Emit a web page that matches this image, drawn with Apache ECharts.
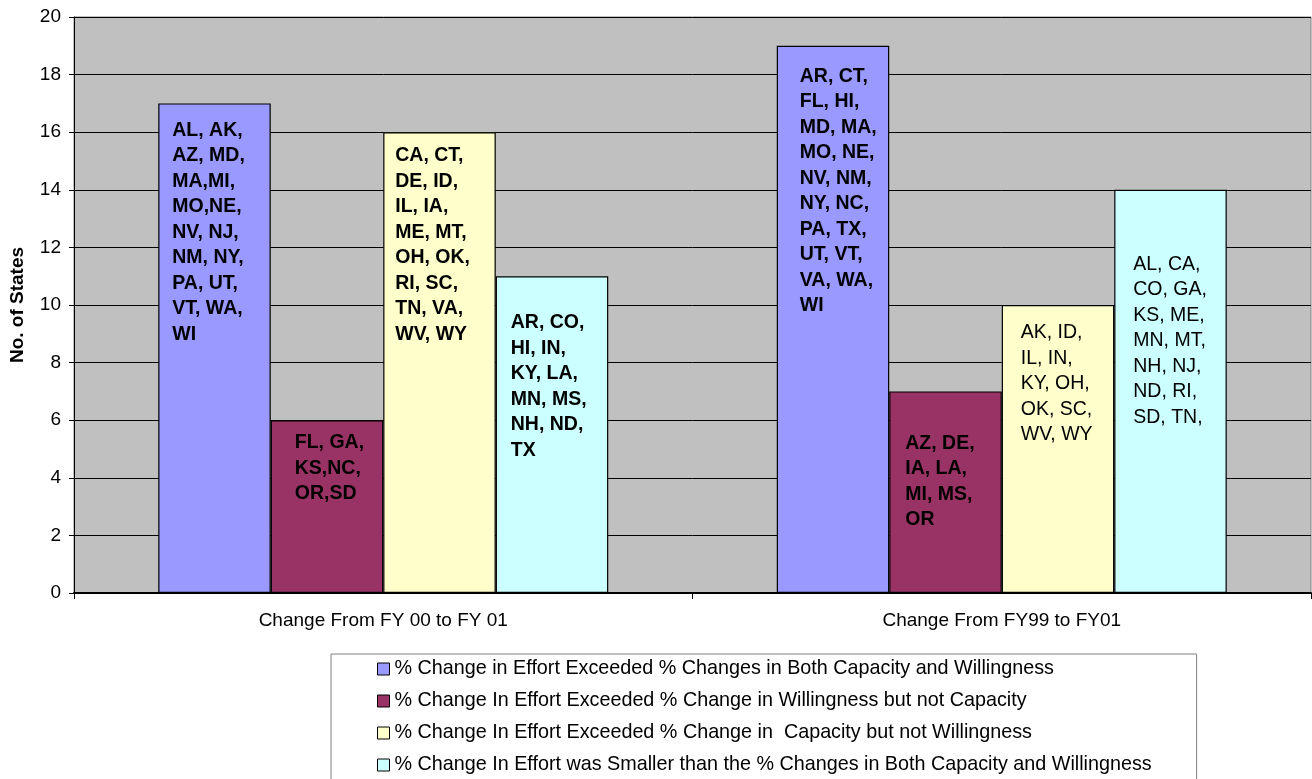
<!DOCTYPE html>
<html>
<head>
<meta charset="utf-8">
<script src="https://cdn.jsdelivr.net/npm/echarts@6/dist/echarts.min.js"></script>
<style>
  html, body { margin: 0; padding: 0; background: #fff; }
  #chart { width: 1312px; height: 779px; }
</style>
</head>
<body>
<div id="chart"></div>
<script>
const categories = ['Change From FY 00 to FY 01', 'Change From FY99 to FY01'];

const seriesNames = [
  '% Change in Effort Exceeded % Changes in Both Capacity and Willingness',
  '% Change In Effort Exceeded % Change in Willingness but not Capacity',
  '% Change In Effort Exceeded % Change in  Capacity but not Willingness',
  '% Change In Effort was Smaller than the % Changes in Both Capacity and Willingness'
];

const bothExceeded = [17, 19];
const willingnessOnly = [6, 7];
const capacityOnly = [16, 10];
const smallerThanBoth = [11, 14];

// state lists shown inside each bar
const bothExceededStates = [
  'AL, AK,\nAZ, MD,\nMA,MI,\nMO,NE,\nNV, NJ,\nNM, NY,\nPA, UT,\nVT, WA,\nWI',
  'AR, CT,\nFL, HI,\nMD, MA,\nMO, NE,\nNV, NM,\nNY, NC,\nPA, TX,\nUT, VT,\nVA, WA,\nWI'
];
const willingnessOnlyStates = [
  'FL, GA,\nKS,NC,\nOR,SD',
  'AZ, DE,\nIA, LA,\nMI, MS,\nOR'
];
const capacityOnlyStates = [
  'CA, CT,\nDE, ID,\nIL, IA,\nME, MT,\nOH, OK,\nRI, SC,\nTN, VA,\nWV, WY',
  'AK, ID,\nIL, IN,\nKY, OH,\nOK, SC,\nWV, WY'
];
const smallerThanBothStates = [
  'AR, CO,\nHI, IN,\nKY, LA,\nMN, MS,\nNH, ND,\nTX',
  'AL, CA,\nCO, GA,\nKS, ME,\nMN, MT,\nNH, NJ,\nND, RI,\nSD, TN,'
];

const yTicks = [0, 20, 2]; // min, max, step

// label styling (placement of the text boxes inside the bars)
const labelBold = [[true, true], [true, true], [true, false], [true, false]];
const labelOffsets = [
  [[14, 14], [23, 18]],
  [[24, 10], [16, 39]],
  [[12, 11], [19, 15]],
  [[15, 34], [19, 62]]
];
const colors = ['#9999ff', '#993366', '#ffffcc', '#ccffff'];

const FONT = 'Arial, "Liberation Sans", sans-serif';

const values = [bothExceeded, willingnessOnly, capacityOnly, smallerThanBoth];
const texts = [bothExceededStates, willingnessOnlyStates, capacityOnlyStates, smallerThanBothStates];

const series = values.map((vals, s) => ({
  name: seriesNames[s],
  type: 'bar',
  barWidth: 112.5,
  barGap: '0%',
  itemStyle: { color: colors[s], borderColor: '#000', borderWidth: 1.2 },
  data: vals.map((v, i) => ({
    value: v,
    label: {
      show: true,
      position: labelOffsets[s][i],
      align: 'left',
      verticalAlign: 'top',
      formatter: texts[s][i],
      fontWeight: labelBold[s][i] ? 'bold' : 'normal',
      fontSize: 19.5,
      lineHeight: 25.5,
      fontFamily: FONT,
      color: '#000'
    }
  })),
  emphasis: { disabled: true },
  animation: false
}));

const chart = echarts.init(document.getElementById('chart'), null, { renderer: 'canvas' });

chart.setOption({
  backgroundColor: '#fff',
  animation: false,
  grid: {
    left: 74, right: 1, top: 17, bottom: 186,
    show: true,
    backgroundColor: '#c0c0c0',
    borderColor: '#808080',
    borderWidth: 1
  },
  legend: {
    orient: 'vertical',
    left: 331,
    top: 654,
    height: 300,
    padding: [5, 45, 30, 46],
    itemGap: 12,
    itemWidth: 12,
    itemHeight: 12,
    icon: 'rect',
    backgroundColor: '#fff',
    borderColor: '#808080',
    borderWidth: 1,
    borderRadius: 0,
    selectedMode: false,
    itemStyle: { borderColor: '#000', borderWidth: 1 },
    textStyle: { fontFamily: FONT, fontSize: 19.75, lineHeight: 20, color: '#000' },
    data: seriesNames
  },
  xAxis: {
    type: 'category',
    data: categories,
    axisLine: { lineStyle: { color: '#000', width: 2 } },
    axisTick: { show: true, length: 6, lineStyle: { color: '#000' } },
    axisLabel: { fontFamily: FONT, fontSize: 19, color: '#000', margin: 18 },
    splitLine: { show: false }
  },
  yAxis: {
    type: 'value',
    min: yTicks[0],
    max: yTicks[1],
    interval: yTicks[2],
    name: 'No. of States',
    nameLocation: 'middle',
    nameGap: 47,
    nameTextStyle: { fontFamily: FONT, fontSize: 19, fontWeight: 'bold', color: '#000' },
    axisLine: { show: true, lineStyle: { color: '#000', width: 1 } },
    axisTick: { show: true, length: 5, lineStyle: { color: '#000' } },
    axisLabel: { fontFamily: FONT, fontSize: 19, color: '#000', margin: 13 },
    splitLine: { show: true, lineStyle: { color: '#000', width: 1 } }
  },
  series: series
});
</script>
</body>
</html>
